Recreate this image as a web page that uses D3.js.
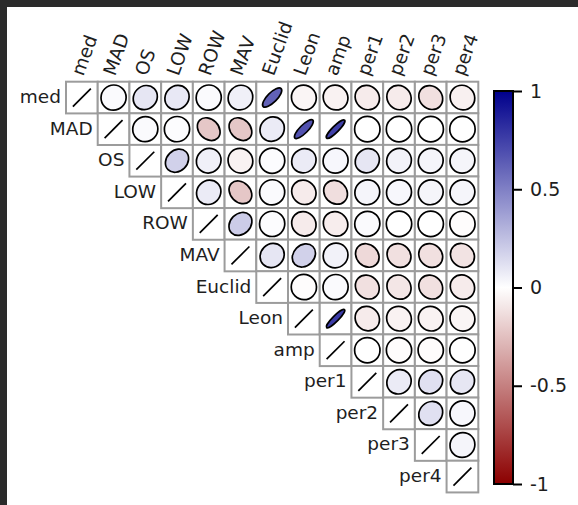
<!DOCTYPE html>
<html>
<head>
<meta charset="utf-8">
<script src="https://cdn.jsdelivr.net/npm/d3@7"></script>
<style>
  html, body { margin: 0; padding: 0; background: #fff; }
  text { font-family: "DejaVu Sans", sans-serif; fill: #1e1e1e; }
</style>
</head>
<body>
<div class="chart"></div>
<script>
// variable names (rows and columns)
var labels = ['med', 'MAD', 'OS', 'LOW', 'ROW', 'MAV', 'Euclid', 'Leon', 'amp', 'per1', 'per2', 'per3', 'per4'];

// upper triangle of the correlation matrix, one array per row (from the diagonal onwards)
var rMed    = [1, 0.02, 0.10, 0.09, 0.02, 0.06, 0.62, -0.04, -0.05, -0.08, -0.08, -0.12, -0.06];
var rMAD    = [1, 0.02, 0.01, -0.22, -0.22, 0.08, 0.68, 0.75, 0.00, 0.00, 0.00, 0.00];
var rOS     = [1, 0.18, 0.06, -0.05, 0.01, 0.08, 0.03, 0.10, 0.05, 0.04, 0.04];
var rLOW    = [1, 0.08, -0.22, 0.02, -0.08, -0.13, 0.04, 0.03, 0.04, 0.04];
var rROW    = [1, 0.20, 0.01, -0.08, -0.07, 0.02, 0.00, 0.00, -0.01];
var rMAV    = [1, 0.10, 0.18, 0.05, -0.15, -0.12, -0.12, -0.11];
var rEuclid = [1, -0.01, 0.02, -0.12, -0.10, -0.12, -0.08];
var rLeon   = [1, 0.77, -0.08, -0.05, -0.05, -0.04];
var rAmp    = [1, 0.00, -0.01, -0.01, 0.00];
var rPer1   = [1, 0.08, 0.12, 0.10];
var rPer2   = [1, 0.12, 0.03];
var rPer3   = [1, 0.04];
var rPer4   = [1];

var cbTicks = [1, 0.5, 0, -0.5, -1];

var rows = [rMed, rMAD, rOS, rLOW, rROW, rMAV, rEuclid, rLeon, rAmp, rPer1, rPer2, rPer3, rPer4];
var cells = [];
rows.forEach(function(row, i) {
    row.forEach(function(v, k) {
        cells.push({ row: labels[i], col: labels[i + k], r: v, diag: k === 0 });
    });
});

var width = 578, height = 505;

var svg = d3.select('.chart')
    .append('svg')
    .attr('width', width)
    .attr('height', height);

// dark frame on top and left (screenshot edge)
svg.append('rect').attr('x', 0).attr('y', 0).attr('width', width).attr('height', 7).attr('fill', '#2b2b2b');
svg.append('rect').attr('x', 0).attr('y', 0).attr('width', 7).attr('height', height).attr('fill', '#2b2b2b');

var x = d3.scaleBand().domain(labels).range([66, 478.3]).padding(0);
var y = d3.scaleBand().domain(labels).range([81.7, 492.3]).padding(0);
var cs = x.bandwidth();
var major = cs * 0.8;

var color = d3.scaleLinear()
    .domain([-1, 0, 1])
    .range(['#8b0000', '#ffffff', '#00008b']);

var g = svg.append('g');

// cell frames
g.selectAll('rect.cell')
    .data(cells)
    .enter()
    .append('rect')
    .attr('class', 'cell')
    .attr('x', d => x(d.col))
    .attr('y', d => y(d.row))
    .attr('width', cs)
    .attr('height', cs)
    .attr('fill', '#fff')
    .attr('stroke', '#9c9c9c')
    .attr('stroke-width', 2);

// ellipses off the diagonal
g.selectAll('ellipse')
    .data(cells.filter(d => !d.diag))
    .enter()
    .append('ellipse')
    .attr('rx', major / 2)
    .attr('ry', d => major / 2 * (1 - Math.abs(d.r)))
    .attr('transform', d => 'translate(' + (x(d.col) + cs / 2) + ',' + (y(d.row) + cs / 2) + ') rotate(' + (-45 * Math.sign(d.r)) + ')')
    .attr('fill', d => color(d.r))
    .attr('stroke', '#000')
    .attr('stroke-width', 1.7);

// diagonal: r = 1 collapses to a line
var h = major / 2 * Math.SQRT1_2;
g.selectAll('line.diag')
    .data(cells.filter(d => d.diag))
    .enter()
    .append('line')
    .attr('class', 'diag')
    .attr('x1', d => x(d.col) + cs / 2 - h)
    .attr('y1', d => y(d.row) + cs / 2 + h)
    .attr('x2', d => x(d.col) + cs / 2 + h)
    .attr('y2', d => y(d.row) + cs / 2 - h)
    .attr('stroke', '#000')
    .attr('stroke-width', 1.7);

// row labels, left of the diagonal cell
g.selectAll('text.rowlab')
    .data(labels)
    .enter()
    .append('text')
    .attr('class', 'rowlab')
    .attr('x', d => x(d) - 5)
    .attr('y', d => y(d) + cs / 2 + 5.5)
    .attr('text-anchor', 'end')
    .style('font-size', '18.5px')
    .text(d => d);

// column labels, rotated
g.selectAll('text.collab')
    .data(labels)
    .enter()
    .append('text')
    .attr('class', 'collab')
    .attr('transform', d => 'translate(' + (x(d) + cs / 2 + 1.5) + ',' + (y.range()[0] - 5) + ') rotate(-70)')
    .attr('text-anchor', 'start')
    .style('font-size', '18.5px')
    .text(d => d);

// colorbar
var cbX = 494, cbW = 19;
var cbScale = d3.scaleLinear().domain([-1, 1]).range([484, 91]);

var grad = svg.append('defs').append('linearGradient')
    .attr('id', 'cbgrad')
    .attr('x1', 0).attr('y1', 1).attr('x2', 0).attr('y2', 0);
grad.selectAll('stop')
    .data(d3.range(-1, 1.001, 0.1))
    .enter()
    .append('stop')
    .attr('offset', d => (d + 1) / 2)
    .attr('stop-color', d => color(d));

svg.append('rect')
    .attr('x', cbX)
    .attr('y', cbScale(1))
    .attr('width', cbW)
    .attr('height', cbScale(-1) - cbScale(1))
    .attr('fill', 'url(#cbgrad)')
    .attr('stroke', '#000')
    .attr('stroke-width', 2);

var cbAxis = d3.axisRight(cbScale)
    .tickValues(cbTicks)
    .tickFormat(d => d === 0 ? '0' : String(d))
    .tickSize(9)
    .tickPadding(8);

var axG = svg.append('g')
    .attr('transform', 'translate(' + (cbX + cbW) + ',0)')
    .call(cbAxis);
axG.select('.domain').remove();
axG.selectAll('.tick line').attr('stroke', '#000').attr('stroke-width', 2);
axG.selectAll('.tick text')
    .style('font-size', '19px')
    .style('font-family', '"DejaVu Sans", sans-serif')
    .attr('fill', '#1e1e1e');
</script>
</body>
</html>
